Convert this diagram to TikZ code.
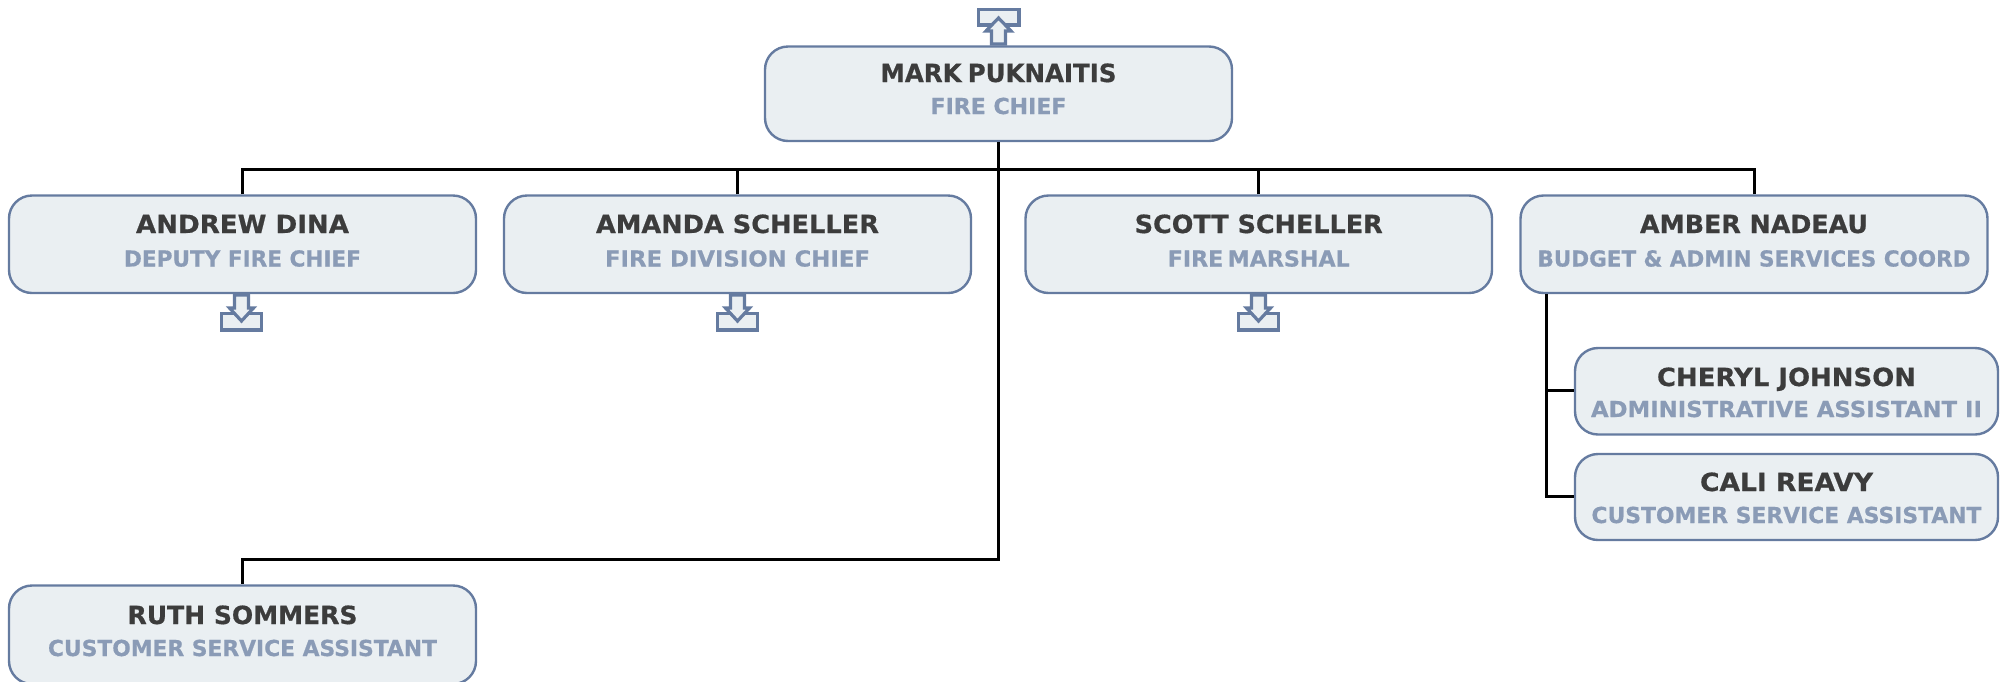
\documentclass[tikz,border=0pt]{standalone}
\usepackage{fontspec}
\usepackage{graphicx}
\setmainfont[BoldFeatures={FakeBold=0.6}]{DejaVu Sans}
\definecolor{boxfill}{HTML}{EAEFF2}
\definecolor{boxline}{HTML}{657BA0}
\definecolor{namecol}{HTML}{3C3C3C}
\definecolor{titlecol}{HTML}{8A9BB6}
\tikzset{
 person/.style={draw=boxline,fill=boxfill,line width=2.4pt,rounded corners=23pt,inner sep=0pt},
 nametext/.style={anchor=base,text=namecol,font=\fontsize{25}{25}\selectfont\bfseries,inner sep=0pt},
 titletext/.style={anchor=base,text=titlecol,font=\fontsize{22}{22}\selectfont\bfseries,inner sep=0pt},
 link/.style={draw=black,line width=3pt},
 iconshape/.style={draw=boxline,fill=boxfill,line width=3.2pt,miter limit=4}
}
% horizontal fit of a text to its measured width, height kept
\newcommand{\fitw}[2]{\resizebox{#1pt}{\height}{#2}}
% id, x0, y0, x1, y1, {name width}{name}, {title width}{title}, name baseline, title baseline
\newcommand{\personbox}[9]{%
 \node[person,minimum width=#4pt-#2pt,minimum height=#5pt-#3pt] (#1) at ({(#2+#4)/2},{(#3+#5)/2}) {};
 \node[nametext] (#1-name) at ({(#2+#4)/2},#8) {\fitw#6};
 \node[titletext] (#1-title) at ({(#2+#4)/2},#9) {\fitw#7};
}
\newcommand{\downicon}[1]{%
 \draw[iconshape] (#1-20,313.5) rectangle (#1+20,330);
 \draw[iconshape] (#1-7,295) -- (#1+7,295) -- (#1+7,308) -- (#1+12,308) -- (#1,321) -- (#1-12,308) -- (#1-7,308) -- cycle;
}
\begin{document}
\begin{tikzpicture}[x=1pt,y=-1pt]
\useasboundingbox (0,0) rectangle (2007,681);
\clip (0,0) rectangle (2007,681);
\personbox{mark}{765}{46.5}{1232}{141}{{236}{MARK\hspace{0.25em}PUKNAITIS}}{{136}{FIRE CHIEF}}{82}{114}
\personbox{andrew}{9}{195.5}{476}{293}{{213}{ANDREW DINA}}{{237}{DEPUTY FIRE CHIEF}}{233}{266.5}
\personbox{amanda}{504}{195.5}{971}{293}{{283}{AMANDA SCHELLER}}{{265}{FIRE DIVISION CHIEF}}{233}{266.5}
\personbox{scott}{1025.5}{195.5}{1492}{293}{{248}{SCOTT SCHELLER}}{{182}{FIRE\hspace{0.2em}MARSHAL}}{233}{266.5}
\personbox{amber}{1520.5}{195.5}{1987.5}{293}{{228}{AMBER NADEAU}}{{433}{BUDGET \& ADMIN SERVICES COORD}}{233}{266.5}
\personbox{cheryl}{1575}{348}{1998}{434.5}{{259}{CHERYL JOHNSON}}{{391}{ADMINISTRATIVE ASSISTANT II}}{386}{417}
\personbox{cali}{1575}{454}{1998}{540}{{173}{CALI REAVY}}{{390}{CUSTOMER SERVICE ASSISTANT}}{491}{523}
\personbox{ruth}{9}{585.5}{476}{684}{{230}{RUTH SOMMERS}}{{389}{CUSTOMER SERVICE ASSISTANT}}{624}{656}
% connectors
\path (mark.south) ++(0,27) coordinate (bus);
\path (mark.south) ++(0,417) coordinate (low);
\path (amber.south west) ++(27,0) coordinate (adm);
\draw[link] (mark.south) -- (bus);
\draw[link] (andrew.north) |- (bus);
\draw[link] (amanda.north) |- (bus);
\draw[link] (scott.north) |- (bus);
\draw[link] (amber.north) |- (bus);
\draw[link] (bus) -- (low) -| (ruth.north);
\draw[link] (adm) |- ([yshift=1pt]cheryl.west);
\draw[link] (adm) |- ([yshift=0.5pt]cali.west);
% icons
\draw[iconshape] (978.5,9.5) rectangle (1019,25);
\draw[iconshape] (991.5,44) -- (1005.5,44) -- (1005.5,31) -- (1011,31) -- (998.5,18) -- (986,31) -- (991.5,31) -- cycle;
\downicon{241.5}
\downicon{737.5}
\downicon{1258.5}
\end{tikzpicture}
\end{document}
